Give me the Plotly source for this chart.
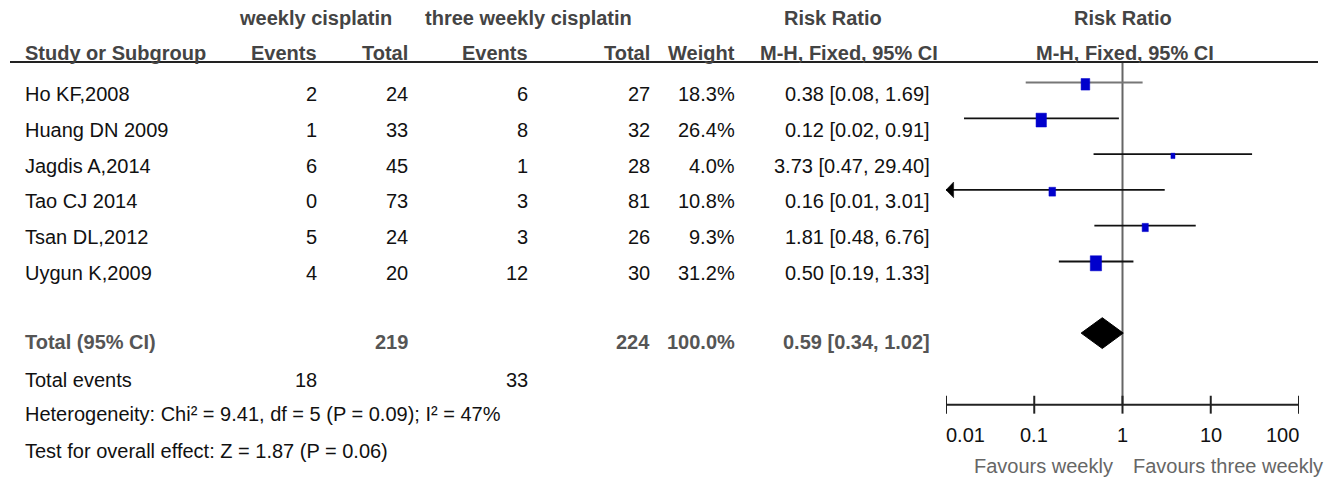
import numpy as np
import plotly.graph_objects as go

# ---------------- data ----------------
studies = ["Ho KF,2008", "Huang DN 2009", "Jagdis A,2014", "Tao CJ 2014", "Tsan DL,2012", "Uygun K,2009"]
events_weekly = [2, 1, 6, 0, 5, 4]
total_weekly = [24, 33, 45, 73, 24, 20]
events_three = [6, 8, 1, 3, 3, 12]
total_three = [27, 32, 28, 81, 26, 30]
weights = [18.3, 26.4, 4.0, 10.8, 9.3, 31.2]
rr = [0.38, 0.12, 3.73, 0.16, 1.81, 0.50]
rr_low = [0.08, 0.016, 0.47, 0.008, 0.48, 0.19]
rr_high = [1.69, 0.91, 29.40, 3.01, 6.76, 1.33]

pooled_total_weekly = 219
pooled_total_three = 224
pooled_weight = 100.0
pooled_rr = 0.59
pooled_low = 0.34
pooled_high = 1.02
pooled_events_weekly = 18
pooled_events_three = 33

heterogeneity_text = "Heterogeneity: Chi² = 9.41, df = 5 (P = 0.09); I² = 47%"
overall_text = "Test for overall effect: Z = 1.87 (P = 0.06)"

tick_values = [0.01, 0.1, 1, 10, 100]
tick_labels = ["0.01", "0.1", "1", "10", "100"]
favours_left = "Favours weekly"
favours_right = "Favours three weekly"

# ---------------- layout constants ----------------
OFF = 8                                 # default page body margin
W, H = 1333 - OFF, 480 - OFF
ROW0_PX, ROW_PX = 82.5 - OFF, 35.8      # pixel y of first row, pixels per row
X_LEFT_PX, X_RIGHT_PX = 946, 1299       # page pixel x of 0.01 and 100
PPD = (X_RIGHT_PX - X_LEFT_PX) / 4      # pixels per decade
FONT = "Liberation Sans, Arial, sans-serif"
FS = 20
BODY = "#111111"
HEAD = "#444444"
TOTC = "#555555"
BLUE = "#0000CC"


def px(x):
    return (x - OFF) / W


n = len(studies)
rows = list(range(n))
pooled_row = n + 1
text_off = 0.32
axis_row = 9.0

fig = go.Figure()

# vertical line of no effect
fig.add_trace(go.Scatter(x=[1, 1], y=[-0.57, axis_row], mode="lines",
                         line=dict(color="#666666", width=2), hoverinfo="skip"))

# confidence intervals
xmin = tick_values[0]
for i in rows:
    lo = max(rr_low[i], xmin)
    col = "#777777" if i == 0 else "#111111"
    fig.add_trace(go.Scatter(x=[lo, rr_high[i]], y=[i, i], mode="lines",
                             line=dict(color=col, width=1.8), hoverinfo="skip"))
    if rr_low[i] < xmin:
        base = xmin * 10 ** (7.6 / PPD)
        fig.add_trace(go.Scatter(x=[xmin, base, base, xmin], y=[i, i - 0.22, i + 0.22, i],
                                 mode="lines", fill="toself", fillcolor="#000000",
                                 line=dict(color="#000000", width=0.5), hoverinfo="skip"))

# weight boxes (area proportional to weight)
for i in rows:
    h_px = 2.7 * np.sqrt(weights[i])
    w_px = 0.75 * h_px
    f = 10 ** (w_px / 2 / PPD)
    dy = h_px / 2 / ROW_PX
    yc = i + 0.05
    fig.add_trace(go.Scatter(x=[rr[i] / f, rr[i] * f, rr[i] * f, rr[i] / f, rr[i] / f],
                             y=[yc - dy, yc - dy, yc + dy, yc + dy, yc - dy],
                             mode="lines", fill="toself", fillcolor=BLUE,
                             line=dict(color=BLUE, width=0.5), hoverinfo="skip"))

# pooled diamond
dh = 0.43
fig.add_trace(go.Scatter(x=[pooled_low, pooled_rr, pooled_high, pooled_rr, pooled_low],
                         y=[pooled_row, pooled_row - dh, pooled_row, pooled_row + dh, pooled_row],
                         mode="lines", fill="toself", fillcolor="#000000",
                         line=dict(color="#000000", width=1), hoverinfo="skip"))

# bottom axis with ticks
ax_x, ax_y = [], []
for v in tick_values:
    ax_x += [v, v, None]
    ax_y += [axis_row - 0.25, axis_row + 0.25, None]
fig.add_trace(go.Scatter(x=ax_x, y=ax_y, mode="lines",
                         line=dict(color="#222222", width=2), hoverinfo="skip"))
fig.add_trace(go.Scatter(x=[tick_values[0], tick_values[-1]], y=[axis_row, axis_row], mode="lines",
                         line=dict(color="#222222", width=2), hoverinfo="skip"))

ann = []


def txt(text, xpx, row, anchor="left", color=BODY, bold=False):
    ann.append(dict(text=f"<b>{text}</b>" if bold else text, x=px(xpx), xref="paper",
                    y=row, yref="y", xanchor=anchor, yanchor="middle", showarrow=False,
                    font=dict(family=FONT, size=FS, color=color)))


# headers
hr1, hr2 = -1.80, -0.82
txt("weekly cisplatin", 315, hr1, "center", HEAD, True)
txt("three weekly cisplatin", 528, hr1, "center", HEAD, True)
txt("Risk Ratio", 833, hr1, "center", HEAD, True)
txt("Risk Ratio", 1123, hr1, "center", HEAD, True)
txt("Study or Subgroup", 23, hr2, "left", HEAD, True)
txt("Events", 319, hr2, "right", HEAD, True)
txt("Total", 410, hr2, "right", HEAD, True)
txt("Events", 530, hr2, "right", HEAD, True)
txt("Total", 652, hr2, "right", HEAD, True)
txt("Weight", 737, hr2, "right", HEAD, True)
txt("M-H, Fixed, 95% CI", 849, hr2, "center", HEAD, True)
txt("M-H, Fixed, 95% CI", 1125, hr2, "center", HEAD, True)

# study rows
for i in rows:
    y = i + text_off
    txt(studies[i], 23, y)
    txt(str(events_weekly[i]), 319, y, "right")
    txt(str(total_weekly[i]), 410, y, "right")
    txt(str(events_three[i]), 530, y, "right")
    txt(str(total_three[i]), 652, y, "right")
    txt(f"{weights[i]:.1f}%", 737, y, "right")
    txt(f"{rr[i]:.2f} [{rr_low[i]:.2f}, {rr_high[i]:.2f}]", 932, y, "right")

# total row
yt = pooled_row + 0.25
txt("Total (95% CI)", 23, yt, "left", TOTC, True)
txt(str(pooled_total_weekly), 410, yt, "right", TOTC, True)
txt(str(pooled_total_three), 652, yt, "right", TOTC, True)
txt(f"{pooled_weight:.1f}%", 737, yt, "right", TOTC, True)
txt(f"{pooled_rr:.2f} [{pooled_low:.2f}, {pooled_high:.2f}]", 932, yt, "right", TOTC, True)

ye = 8.31
txt("Total events", 23, ye)
txt(str(pooled_events_weekly), 319, ye, "right")
txt(str(pooled_events_three), 530, ye, "right")
txt(heterogeneity_text, 23, 9.26)
txt(overall_text, 23, 10.29)

# tick labels
for k, (v, lab) in enumerate(zip(tick_values, tick_labels)):
    anchor = "left" if k == 0 else ("right" if k == len(tick_values) - 1 else "center")
    ann.append(dict(text=lab, x=np.log10(v), xref="x", y=9.85, yref="y", xanchor=anchor,
                    yanchor="middle", showarrow=False,
                    xshift=-2 if anchor == "left" else (2 if anchor == "right" else 0),
                    font=dict(family=FONT, size=FS, color=BODY)))

# favours labels
ann.append(dict(text=favours_left, x=0, xref="x", y=10.71, yref="y", xanchor="right", yanchor="middle",
                xshift=-8, showarrow=False, font=dict(family=FONT, size=FS, color="#666666")))
ann.append(dict(text=favours_right, x=0, xref="x", y=10.71, yref="y", xanchor="left", yanchor="middle",
                xshift=8, showarrow=False, font=dict(family=FONT, size=FS, color="#666666")))

shapes = [dict(type="line", xref="paper", yref="y", x0=px(10), x1=px(1318), y0=-0.57, y1=-0.57,
               line=dict(color="#222222", width=2))]

fig.update_layout(
    width=W, height=H, margin=dict(l=0, r=0, t=0, b=0),
    paper_bgcolor="white", plot_bgcolor="white", showlegend=False,
    xaxis=dict(type="log", range=[np.log10(tick_values[0]), np.log10(tick_values[-1])],
               domain=[px(X_LEFT_PX), px(X_RIGHT_PX)], visible=False, fixedrange=True),
    yaxis=dict(range=[(H - ROW0_PX) / ROW_PX, -ROW0_PX / ROW_PX], domain=[0, 1],
               visible=False, fixedrange=True),
    annotations=ann, shapes=shapes, hovermode=False,
)

fig.write_html("out.html")
